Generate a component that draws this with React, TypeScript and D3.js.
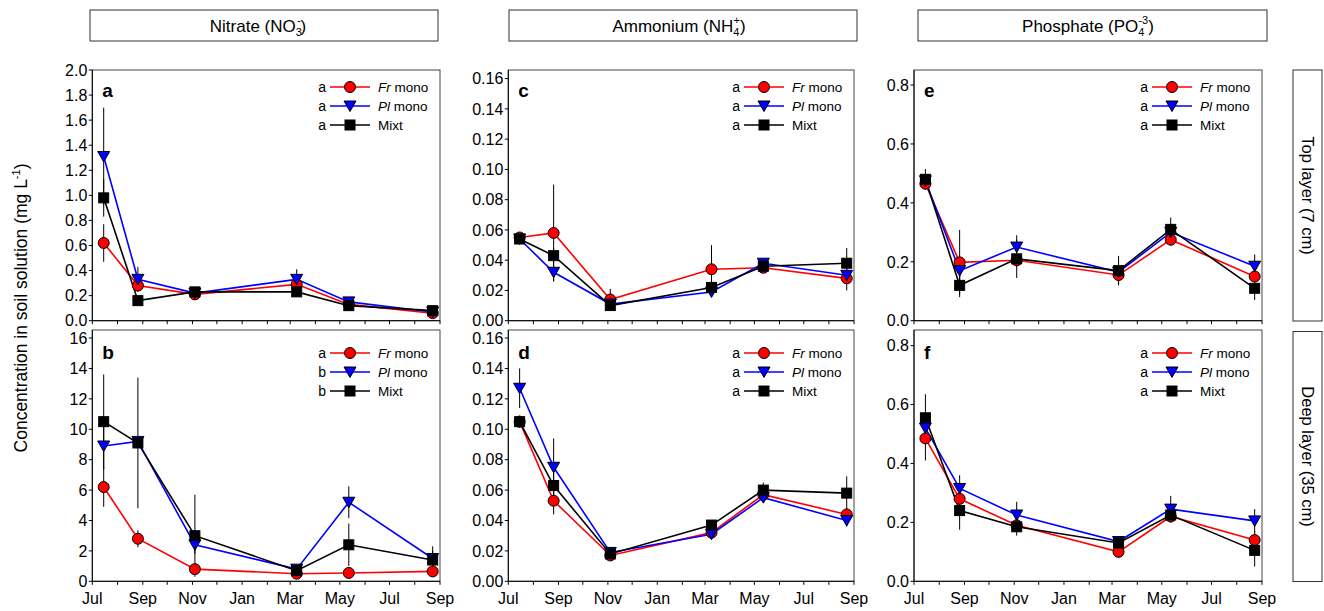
import React from 'react'
import * as d3 from 'd3'

// sampling dates (x positions of every series)
const sampleDates = ['2013-07-15', '2013-08-26', '2013-11-04', '2014-03-09', '2014-05-12', '2014-08-23']
const axisStart = '2013-07-01'
const axisEnd = '2014-09-01'

const seriesLabels = [['Fr', ' mono'], ['Pl', ' mono'], ['', 'Mixt']]
const seriesColors = ['#ff0000', '#0000ff', '#000000']
const seriesShapes = ['circle', 'triangle', 'square']

// nitrate, top layer
const nitrateTopFr = [0.62, 0.28, 0.21, 0.29, 0.13, 0.06]
const nitrateTopPl = [1.31, 0.33, 0.22, 0.33, 0.15, 0.07]
const nitrateTopMixt = [0.98, 0.16, 0.23, 0.23, 0.12, 0.08]
const nitrateTopFrSe = [0.15, 0.03, 0.02, 0.03, 0.02, 0.01]
const nitrateTopPlSe = [0.39, 0.1, 0.02, 0.08, 0.02, 0.01]
const nitrateTopMixtSe = [0.15, 0.03, 0.02, 0.03, 0.02, 0.01]

// nitrate, deep layer
const nitrateDeepFr = [6.2, 2.8, 0.8, 0.5, 0.55, 0.65]
const nitrateDeepPl = [8.9, 9.2, 2.4, 0.8, 5.2, 1.5]
const nitrateDeepMixt = [10.5, 9.1, 3.0, 0.7, 2.4, 1.4]
const nitrateDeepFrSe = [1.3, 0.55, 0.3, 0.1, 0.1, 0.2]
const nitrateDeepPlSe = [1.5, 0.3, 0.6, 0.2, 1.05, 0.5]
const nitrateDeepMixtSe = [3.1, 4.3, 2.7, 0.2, 1.4, 0.9]

// ammonium, top layer
const ammoniumTopFr = [0.055, 0.058, 0.014, 0.034, 0.035, 0.028]
const ammoniumTopPl = [0.054, 0.032, 0.011, 0.019, 0.038, 0.030]
const ammoniumTopMixt = [0.054, 0.043, 0.010, 0.022, 0.036, 0.038]
const ammoniumTopFrSe = [0.002, 0.032, 0.007, 0.016, 0.002, 0.008]
const ammoniumTopPlSe = [0.002, 0.006, 0.002, 0.003, 0.003, 0.003]
const ammoniumTopMixtSe = [0.002, 0.005, 0.002, 0.003, 0.002, 0.010]

// ammonium, deep layer
const ammoniumDeepFr = [0.105, 0.053, 0.017, 0.032, 0.057, 0.044]
const ammoniumDeepPl = [0.127, 0.075, 0.019, 0.031, 0.055, 0.040]
const ammoniumDeepMixt = [0.105, 0.063, 0.018, 0.037, 0.060, 0.058]
const ammoniumDeepFrSe = [0.003, 0.009, 0.002, 0.002, 0.003, 0.004]
const ammoniumDeepPlSe = [0.013, 0.019, 0.002, 0.002, 0.003, 0.004]
const ammoniumDeepMixtSe = [0.004, 0.012, 0.002, 0.003, 0.005, 0.011]

// phosphate, top layer
const phosphateTopFr = [0.465, 0.198, 0.205, 0.155, 0.275, 0.15]
const phosphateTopPl = [0.475, 0.17, 0.25, 0.165, 0.30, 0.185]
const phosphateTopMixt = [0.48, 0.12, 0.21, 0.17, 0.31, 0.11]
const phosphateTopFrSe = [0.02, 0.11, 0.02, 0.03, 0.02, 0.03]
const phosphateTopPlSe = [0.02, 0.03, 0.04, 0.02, 0.02, 0.04]
const phosphateTopMixtSe = [0.035, 0.04, 0.065, 0.05, 0.04, 0.04]

// phosphate, deep layer
const phosphateDeepFr = [0.485, 0.28, 0.19, 0.1, 0.22, 0.14]
const phosphateDeepPl = [0.52, 0.315, 0.225, 0.135, 0.245, 0.205]
const phosphateDeepMixt = [0.555, 0.24, 0.185, 0.13, 0.225, 0.105]
const phosphateDeepFrSe = [0.075, 0.03, 0.02, 0.02, 0.02, 0.03]
const phosphateDeepPlSe = [0.03, 0.045, 0.045, 0.015, 0.045, 0.04]
const phosphateDeepMixtSe = [0.08, 0.065, 0.03, 0.02, 0.02, 0.055]

const font = 'Liberation Sans, Arial, sans-serif'
const tickFont = 16

// panel layout
const cols = [[92.3, 440], [508.3, 854], [914, 1262]]
const rows = [[70, 320.7], [330, 581.3]]

const panels = [
  { id: 'a', col: 0, row: 0, yMax: 2.0, yTicks: d3.range(0, 2.001, 0.2), fmt: '.1f',
    values: [nitrateTopFr, nitrateTopPl, nitrateTopMixt], errors: [nitrateTopFrSe, nitrateTopPlSe, nitrateTopMixtSe], letters: ['a', 'a', 'a'] },
  { id: 'b', col: 0, row: 1, yMax: 16.53, yTicks: d3.range(0, 16.01, 2), fmt: 'd',
    values: [nitrateDeepFr, nitrateDeepPl, nitrateDeepMixt], errors: [nitrateDeepFrSe, nitrateDeepPlSe, nitrateDeepMixtSe], letters: ['a', 'b', 'b'] },
  { id: 'c', col: 1, row: 0, yMax: 0.1657, yTicks: d3.range(0, 0.1601, 0.02), fmt: '.2f',
    values: [ammoniumTopFr, ammoniumTopPl, ammoniumTopMixt], errors: [ammoniumTopFrSe, ammoniumTopPlSe, ammoniumTopMixtSe], letters: ['a', 'a', 'a'] },
  { id: 'd', col: 1, row: 1, yMax: 0.1653, yTicks: d3.range(0, 0.1601, 0.02), fmt: '.2f',
    values: [ammoniumDeepFr, ammoniumDeepPl, ammoniumDeepMixt], errors: [ammoniumDeepFrSe, ammoniumDeepPlSe, ammoniumDeepMixtSe], letters: ['a', 'a', 'a'] },
  { id: 'e', col: 2, row: 0, yMax: 0.851, yTicks: d3.range(0, 0.801, 0.2), fmt: '.1f',
    values: [phosphateTopFr, phosphateTopPl, phosphateTopMixt], errors: [phosphateTopFrSe, phosphateTopPlSe, phosphateTopMixtSe], letters: ['a', 'a', 'a'] },
  { id: 'f', col: 2, row: 1, yMax: 0.853, yTicks: d3.range(0, 0.801, 0.2), fmt: '.1f',
    values: [phosphateDeepFr, phosphateDeepPl, phosphateDeepMixt], errors: [phosphateDeepFrSe, phosphateDeepPlSe, phosphateDeepMixtSe], letters: ['a', 'a', 'a'] },
]

const parse = d3.utcParse('%Y-%m-%d')
const dates = sampleDates.map(d => parse(d) as Date)
const monthFmt = d3.utcFormat('%b')

function Marker({ shape, x, y, fill }: { shape: string, x: number, y: number, fill: string }) {
  if (shape === 'circle')
    return <circle cx={x} cy={y} r={5.5} fill={fill} stroke='#000' strokeWidth={1} />
  if (shape === 'square')
    return <rect x={x - 5} y={y - 5} width={10} height={10} fill={fill} stroke='#000' strokeWidth={1} />
  return <path d={`M${x - 6},${y - 5}L${x + 6},${y - 5}L${x},${y + 5.5}Z`} fill={fill} stroke='#000' strokeWidth={1} />
}

function Panel({ p }: { p: typeof panels[number] }) {
  const [left, right] = cols[p.col]
  const [top, bottom] = rows[p.row]
  const x = d3.scaleUtc().domain([parse(axisStart) as Date, parse(axisEnd) as Date]).range([left, right])
  const y = d3.scaleLinear().domain([0, p.yMax]).range([bottom, top])
  const fmt = d3.format(p.fmt)
  const months = x.ticks(d3.utcMonth.every(1) as d3.TimeInterval)
  const line = d3.line<number>().x((_, i) => x(dates[i])).y(v => y(v))
  const legendTop = p.row === 0 ? top + 17 : top + 23
  const legendMarkerX = right - 90
  return (
    <g>
      <rect x={left} y={top} width={right - left} height={bottom - top} fill='none' stroke='#444' strokeWidth={1} />
      <line x1={left} x2={left} y1={top} y2={bottom} stroke='#000' />
      <line x1={left} x2={right} y1={bottom} y2={bottom} stroke='#000' />
      {p.yTicks.map(t => (
        <g key={t}>
          <line x1={left - 3.5} x2={left} y1={y(t)} y2={y(t)} stroke='#000' />
          <text x={left - 5} y={y(t)} dy='0.36em' textAnchor='end' fontSize={tickFont}>{fmt(t)}</text>
        </g>
      ))}
      {months.map((m, i) => (
        <g key={i}>
          <line x1={x(m)} x2={x(m)} y1={bottom} y2={bottom + 3.5} stroke='#000' />
          {p.row === 1 && i % 2 === 0 ?
            <text x={x(m)} y={bottom + 23} textAnchor='middle' fontSize={tickFont}>{monthFmt(m)}</text>
            : null}
        </g>
      ))}
      <text x={left + 10} y={p.row === 0 ? top + 27 : top + 29} fontSize={19} fontWeight='bold'>{p.id}</text>
      {/* error bars */}
      {p.values.map((vals, s) => vals.map((v, i) => (
        <line key={`e${s}-${i}`} x1={x(dates[i])} x2={x(dates[i])}
          y1={y(v - p.errors[s][i])} y2={y(v + p.errors[s][i])} stroke='#000' strokeWidth={1} />
      )))}
      {p.values.map((vals, s) => (
        <path key={`l${s}`} d={line(vals) as string} fill='none' stroke={seriesColors[s]} strokeWidth={1.6} />
      ))}
      {p.values.map((vals, s) => vals.map((v, i) => (
        <Marker key={`m${s}-${i}`} shape={seriesShapes[s]} x={x(dates[i])} y={y(v)} fill={seriesColors[s]} />
      )))}
      {/* legend */}
      {seriesLabels.map((lab, s) => {
        const ly = legendTop + s * 19
        return (
          <g key={`lg${s}`}>
            <text x={legendMarkerX - 24} y={ly} dy='0.36em' textAnchor='end' fontSize={14}>{p.letters[s]}</text>
            <line x1={legendMarkerX - 20} x2={legendMarkerX + 20} y1={ly} y2={ly} stroke={seriesColors[s]} strokeWidth={1.6} />
            <Marker shape={seriesShapes[s]} x={legendMarkerX} y={ly} fill={seriesColors[s]} />
            <text x={legendMarkerX + 28} y={ly} dy='0.36em' fontSize={13.5}>
              {lab[0] ? <tspan fontStyle='italic'>{lab[0]}</tspan> : null}{lab[1]}
            </text>
          </g>
        )
      })}
    </g>
  )
}

export default function App() {
  return (
    <svg width={1324} height={611} style={{ position: 'absolute', left: 0, top: 0, background: '#fff' }} fontFamily={font}>
      {/* column headers */}
      <rect x={90} y={10} width={348} height={31} fill='#fff' stroke='#333' />
      <text x={258} y={32} textAnchor='middle' fontSize={17}>
        Nitrate (NO<tspan dy={4} fontSize={11}>3</tspan><tspan dy={-12} dx={-5} fontSize={11}>-</tspan><tspan dy={8}>)</tspan>
      </text>
      <rect x={509} y={10} width={348} height={31} fill='#fff' stroke='#333' />
      <text x={679} y={32} textAnchor='middle' fontSize={17}>
        Ammonium (NH<tspan dy={4} fontSize={11}>4</tspan><tspan dy={-12} dx={-6} fontSize={11}>+</tspan><tspan dy={8}>)</tspan>
      </text>
      <rect x={918} y={10} width={349} height={31} fill='#fff' stroke='#333' />
      <text x={1088} y={32} textAnchor='middle' fontSize={17}>
        Phosphate (PO<tspan dy={4} fontSize={11}>4</tspan><tspan dy={-12} dx={-6} fontSize={11}>-3</tspan><tspan dy={8}>)</tspan>
      </text>

      {/* y axis title */}
      <text transform='translate(21,308) rotate(-90)' textAnchor='middle' dy='0.36em' fontSize={17.5}>
        Concentration in soil solution (mg L<tspan dy={-7} fontSize={11}>-1</tspan><tspan dy={7}>)</tspan>
      </text>

      {/* row labels */}
      <rect x={1293} y={70} width={29} height={251} fill='#fff' stroke='#333' />
      <text transform='translate(1307.5,195.5) rotate(90)' textAnchor='middle' dy='0.36em' fontSize={16.5}>Top layer (7 cm)</text>
      <rect x={1293} y={331.5} width={29} height={250} fill='#fff' stroke='#333' />
      <text transform='translate(1307.5,456.5) rotate(90)' textAnchor='middle' dy='0.36em' fontSize={16.5}>Deep layer (35 cm)</text>

      {panels.map(p => <Panel key={p.id} p={p} />)}
    </svg>
  )
}
